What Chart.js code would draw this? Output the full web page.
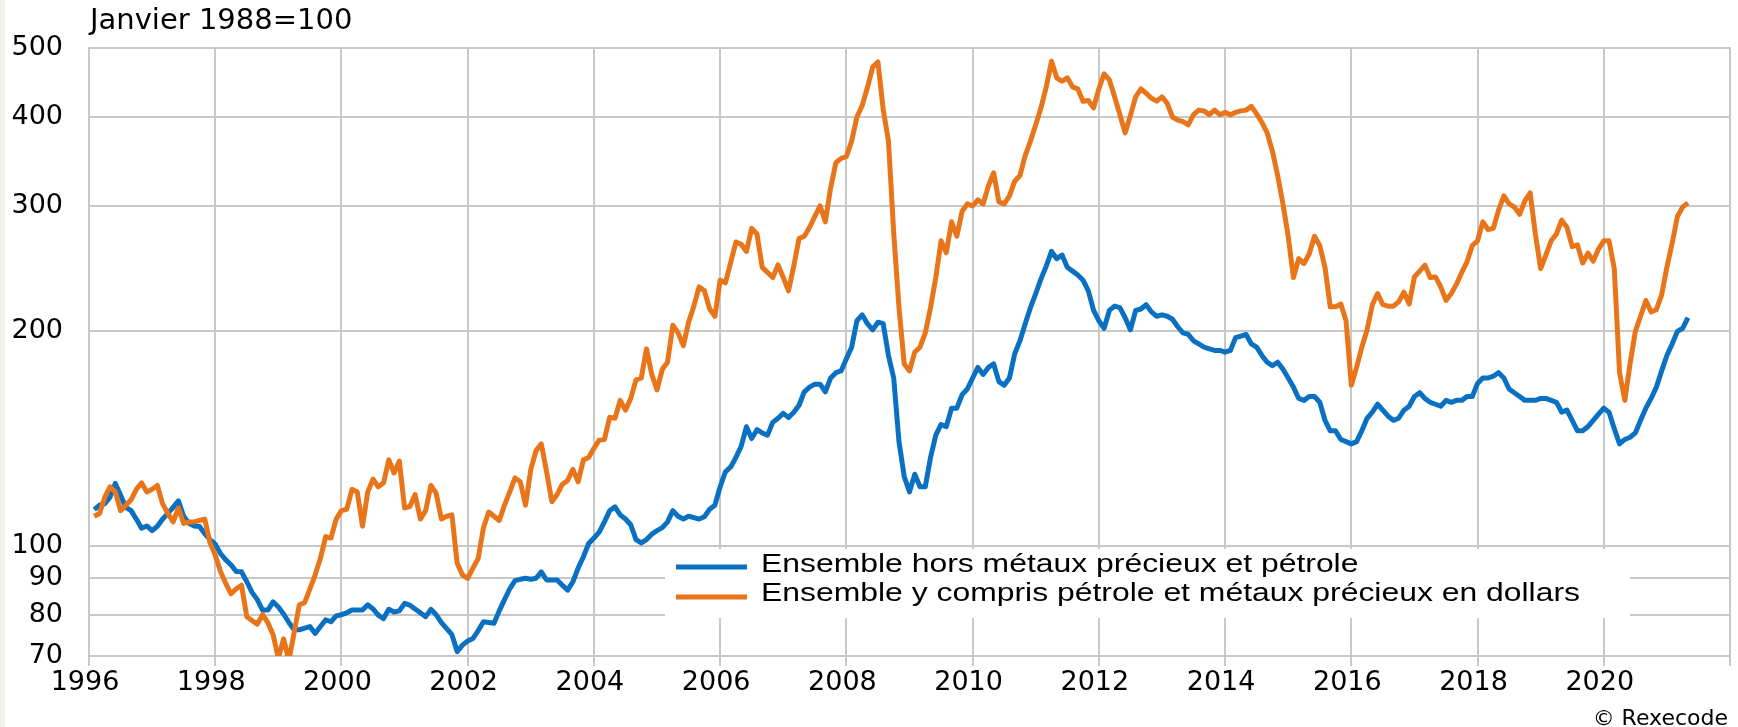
<!DOCTYPE html>
<html>
<head>
<meta charset="utf-8">
<script src="https://cdn.jsdelivr.net/npm/chart.js@4.4.1/dist/chart.umd.min.js"></script>
<style>
html,body{margin:0;padding:0;background:#ffffff;}
#wrap{width:1738px;height:727px;position:relative;overflow:hidden;}
canvas{display:block;}
</style>
</head>
<body>
<div id="wrap"><canvas id="c" width="1738" height="727"></canvas></div>
<script>
// ---------------- DATA ----------------
const titleText = 'Janvier 1988=100';
const creditText = '\u00A9 Rexecode';
const seriesLabels = [
  'Ensemble hors métaux précieux et pétrole',
  'Ensemble y compris pétrole et métaux précieux en dollars'
];
const yTickValues = [70, 80, 90, 100, 200, 300, 400, 500];
const xTickYears = [1996, 1998, 2000, 2002, 2004, 2006, 2008, 2010, 2012, 2014, 2016, 2018, 2020, 2022];
const firstYear = 1996;
const firstMonth = 2; // monthly data from February 1996 to May 2021

// Ensemble hors métaux précieux et pétrole
const blueValues = [
  /*1996*/ 112.4, 114, 114.6, 117, 122.3, 117.8, 113.2, 112, 109, 105.8, 106.6,
  /*1997*/ 105, 106.5, 109, 111, 113.2, 115.6, 110, 107.5, 106.6, 106.4, 104, 102,
  /*1998*/ 100.5, 97.5, 95.5, 94, 92, 91.9, 89, 86, 84, 81.2, 81.2, 83.4,
  /*1999*/ 82, 80.2, 78, 76.2, 76.2, 76.6, 77, 75.3, 77, 78.7, 78.2, 79.7,
  /*2000*/ 80, 80.5, 81.2, 81.2, 81.2, 82.6, 81.5, 79.9, 79, 81.4, 80.7, 81,
  /*2001*/ 83, 82.5, 81.5, 80.5, 79.5, 81.4, 80, 78, 76.5, 75, 71, 72.5,
  /*2002*/ 73.5, 74.1, 76, 78.2, 78, 77.8, 81, 84, 87, 89.3, 89.7, 90,
  /*2003*/ 89.7, 90, 91.9, 89.5, 89.5, 89.5, 88, 86.6, 89, 93, 96.5, 100.7,
  /*2004*/ 102.5, 104.5, 108, 112, 113.4, 110.5, 109, 107, 102, 100.9, 102, 103.8,
  /*2005*/ 105, 106, 108, 112, 110, 109, 110, 109.5, 109, 109.8, 112.5, 114,
  /*2006*/ 121, 127, 129, 133, 138, 146.9, 141.4, 145.5, 144, 143, 149, 151,
  /*2007*/ 153.4, 151.4, 154, 157.5, 164.5, 167, 168.6, 168.6, 164.5, 172, 175, 176,
  /*2008*/ 183, 190, 207, 211, 205, 201, 206, 205, 185, 172, 140, 125,
  /*2009*/ 119, 126, 121, 121, 133, 143, 148, 147, 156, 156, 163, 166,
  /*2010*/ 172, 178, 174, 178, 180, 170, 168, 172, 186, 194, 205, 216,
  /*2011*/ 226, 237, 247, 259, 253, 256, 246, 243, 240, 236, 228, 214,
  /*2012*/ 207, 202, 214, 217, 216, 209, 201, 214, 215, 218, 213, 210,
  /*2013*/ 211, 210, 208, 203, 199, 198, 194, 192, 190, 189, 188, 188,
  /*2014*/ 187, 188, 196, 197, 198, 192, 190, 185, 181, 179, 181, 177,
  /*2015*/ 172, 167, 161, 160, 162, 162, 159, 150, 145, 145, 141, 140,
  /*2016*/ 139, 140, 145, 151, 154, 158, 155, 152, 150, 151, 155, 157,
  /*2017*/ 162, 164, 161, 159, 158, 157, 160, 159, 160, 160, 162, 162,
  /*2018*/ 169, 172, 172, 173, 175, 172, 166, 164, 162, 160, 160, 160,
  /*2019*/ 161, 161, 160, 159, 154, 155, 150, 145, 145, 147, 150, 153,
  /*2020*/ 156, 154, 146, 139, 141, 142, 144, 150, 156, 161, 167, 176,
  /*2021*/ 185, 192, 200, 202, 209
];

// Ensemble y compris pétrole et métaux précieux en dollars
const orangeValues = [
  /*1996*/ 110, 111, 117, 121, 119, 112, 114, 116, 120, 122.5, 119,
  /*1997*/ 120, 121.5, 114.5, 111, 108, 113, 107.5, 108, 108, 108.5, 109, 101,
  /*1998*/ 97, 92, 88.5, 85.6, 87, 88, 79.5, 78.5, 77.6, 80, 78, 75,
  /*1999*/ 69.5, 74, 69, 75.5, 82.6, 83.2, 87, 91, 96, 103, 102.5, 109,
  /*2000*/ 112, 112.5, 120, 119, 106.5, 119, 124, 121, 122.5, 132, 126.5, 131.5,
  /*2001*/ 113, 113.5, 118, 109, 112, 121.5, 118.5, 109, 110, 110.5, 94.5, 91,
  /*2002*/ 90, 93, 96, 106, 111.5, 110, 108.5, 114, 119, 124.5, 123, 114,
  /*2003*/ 128, 136, 139, 127, 115.3, 118, 122, 123.5, 128, 123, 132, 133,
  /*2004*/ 137, 140.7, 141, 151.5, 151, 160, 155, 161, 171, 172, 189, 174,
  /*2005*/ 165.5, 177, 181, 204, 199, 191, 206, 217, 231, 228, 215, 210,
  /*2006*/ 236, 234, 250, 267, 265, 259, 279, 274, 246, 242, 238, 248,
  /*2007*/ 238, 228, 247, 270, 272, 280, 290, 300, 285, 318, 345, 350,
  /*2008*/ 352, 370, 400, 415, 440, 470, 478, 410, 370, 275, 216, 180,
  /*2009*/ 176, 187, 190, 199, 216, 238, 268, 258, 285, 272, 295, 302,
  /*2010*/ 300, 306, 302, 320, 334, 304, 302, 310, 325, 331, 353, 370,
  /*2011*/ 390, 412, 441, 479, 454, 449, 454, 441, 438, 421, 422, 412,
  /*2012*/ 438, 460, 451, 427, 403, 380, 402, 427, 438, 432, 425, 421,
  /*2013*/ 427, 418, 400, 396, 394, 390, 403, 409, 408, 403, 409, 403,
  /*2014*/ 406, 403, 406, 408, 409, 414, 404, 393, 380, 358, 331, 302,
  /*2015*/ 272, 238, 253, 249, 257, 272, 264, 246, 216.5, 216.5, 218.5, 207,
  /*2016*/ 168, 178, 190, 201, 218, 226, 218, 217, 217, 220, 227, 218.5,
  /*2017*/ 238.5, 243, 247.7, 238, 238.5, 231, 221, 226, 233, 242, 250.4, 264,
  /*2018*/ 268, 285, 278, 279, 296, 310, 302, 299, 292, 305, 313, 274,
  /*2019*/ 245, 256, 268, 274, 286.5, 280, 263, 264.5, 249.5, 257.5, 251, 261,
  /*2020*/ 268, 268, 245, 175, 160, 180, 200, 210, 221, 213, 214.5, 225,
  /*2021*/ 246, 266, 290, 299, 303
];

// ---------------- CHART ----------------
function toPoints(values) {
  return values.map((v, i) => ({ x: firstYear + (firstMonth - 1 + i) / 12, y: v }));
}

const gridColor = '#c8c8c8';
const blueColor = '#0a70c2';
const orangeColor = '#e8751a';

const pagePlugin = {
  id: 'pageDecor',
  beforeDraw(chart) {
    const ctx = chart.ctx;
    ctx.save();
    ctx.fillStyle = '#ffffff';
    ctx.fillRect(0, 0, chart.width, chart.height);
    ctx.fillStyle = '#f4f1ed';
    ctx.fillRect(0, 0, 5, chart.height);
    ctx.restore();
  },
  beforeDatasetsDraw(chart) {
    const a = chart.chartArea;
    const ctx = chart.ctx;
    ctx.save();
    ctx.strokeStyle = gridColor;
    ctx.lineWidth = 2;
    ctx.strokeRect(a.left, a.top, a.right - a.left, a.bottom - a.top);
    ctx.restore();
  },
  afterDraw(chart) {
    const ctx = chart.ctx;
    ctx.save();
    // title
    ctx.fillStyle = '#000';
    ctx.font = '29px "DejaVu Sans", sans-serif';
    ctx.textAlign = 'left';
    ctx.textBaseline = 'alphabetic';
    ctx.fillText(titleText, 90, 29);
    // credit
    ctx.font = '22px "DejaVu Sans", sans-serif';
    ctx.textAlign = 'right';
    ctx.fillText(creditText, 1728, 725);

    // legend
    ctx.fillStyle = '#ffffff';
    ctx.fillRect(665, 549, 965, 69);
    ctx.font = '26px "Liberation Sans", Arial, sans-serif';
    ctx.textAlign = 'left';
    const stretch = 819 / ctx.measureText(seriesLabels[1]).width;
    [0, 1].forEach((i) => {
      const ds = chart.data.datasets[i];
      const y = 567 + i * 30;
      ctx.strokeStyle = ds.borderColor;
      ctx.lineWidth = 5;
      ctx.lineCap = 'butt';
      ctx.beginPath();
      ctx.moveTo(676, y);
      ctx.lineTo(747, y);
      ctx.stroke();
      ctx.save();
      ctx.translate(761, 572 + i * 29);
      ctx.scale(stretch, 1);
      ctx.fillStyle = '#000';
      ctx.fillText(ds.label, 0, 0);
      ctx.restore();
    });
    ctx.restore();
  }
};

new Chart(document.getElementById('c'), {
  type: 'line',
  data: {
    datasets: [
      {
        label: seriesLabels[0],
        data: toPoints(blueValues),
        borderColor: blueColor,
        backgroundColor: blueColor,
        borderWidth: 5,
        pointRadius: 0,
        tension: 0,
        borderJoinStyle: 'round',
        clip: 0,
        order: 1
      },
      {
        label: seriesLabels[1],
        data: toPoints(orangeValues),
        borderColor: orangeColor,
        backgroundColor: orangeColor,
        borderWidth: 5,
        pointRadius: 0,
        tension: 0,
        borderJoinStyle: 'round',
        clip: 0,
        order: 0
      }
    ]
  },
  options: {
    responsive: false,
    animation: false,
    devicePixelRatio: 1,
    layout: { padding: { top: 48, right: 8, left: 0, bottom: 0 } },
    plugins: {
      legend: { display: false },
      tooltip: { enabled: false },
      title: { display: false }
    },
    scales: {
      x: {
        type: 'linear',
        min: 1996,
        max: 2022,
        afterBuildTicks(scale) { scale.ticks = xTickYears.map(v => ({ value: v })); },
        afterFit(scale) { scale.height = 71; },
        ticks: {
          autoSkip: false,
          maxRotation: 0,
          padding: 1,
          labelOffset: -4,
          color: '#000',
          font: { family: '"DejaVu Sans", sans-serif', size: 27 },
          callback: (v) => (v === 2022 ? '' : String(v))
        },
        grid: { color: gridColor, lineWidth: 2, drawTicks: true, tickLength: 10, tickColor: gridColor },
        border: { display: true, color: gridColor, width: 2 }
      },
      y: {
        type: 'logarithmic',
        min: 70,
        max: 500,
        afterBuildTicks(scale) { scale.ticks = yTickValues.map(v => ({ value: v })); },
        afterFit(scale) { scale.width = 89; },
        ticks: {
          autoSkip: false,
          padding: 26,
          color: '#000',
          font: { family: '"DejaVu Sans", sans-serif', size: 27 },
          callback: (v) => String(v)
        },
        grid: { color: gridColor, lineWidth: 2, drawTicks: false },
        border: { display: true, color: gridColor, width: 2 }
      }
    }
  },
  plugins: [pagePlugin]
});
</script>
</body>
</html>
